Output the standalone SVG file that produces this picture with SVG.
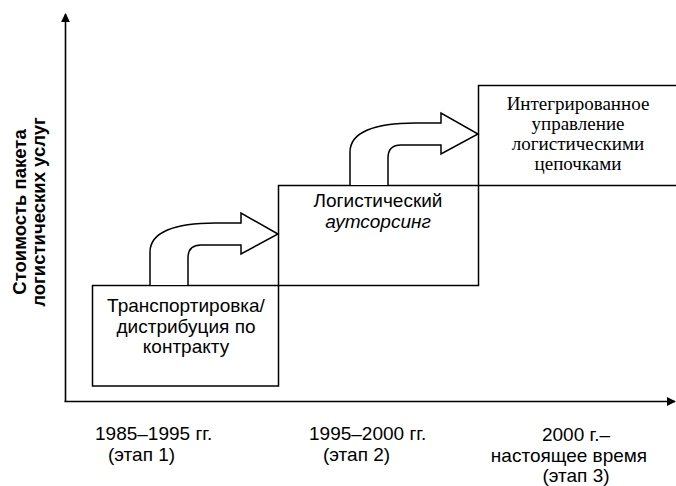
<svg xmlns="http://www.w3.org/2000/svg" xmlns:xlink="http://www.w3.org/1999/xlink" width="676" height="486" viewBox="0 0 676 486">
  <style>
    .box { fill: #ffffff; stroke: #000000; stroke-width: 1.5; }
    .edge { fill: none; stroke: #000000; stroke-width: 1.5; }
    .axis { fill: none; stroke: #000000; stroke-width: 1.6; }
    .flow { fill: #ffffff; stroke: #000000; stroke-width: 1.5; stroke-linejoin: miter; }
    .sans { font-family: "Liberation Sans", Arial, sans-serif; font-size: 19px; fill: #000000; }
    .serif { font-family: "Liberation Serif", "Times New Roman", serif; font-size: 19px; fill: #000000; }
    .ylabel { font-family: "Liberation Sans", Arial, sans-serif; font-size: 18.5px; font-weight: bold; fill: #000000; }
  </style>
  <defs>
    <marker id="axisHead" viewBox="0 0 10 10" refX="9" refY="5" markerWidth="9" markerHeight="9" markerUnits="userSpaceOnUse" orient="auto">
      <path d="M0,0 L10,5 L0,10 Z" fill="#000000"/>
    </marker>
    <!-- curved block arrow stepping up to the next level -->
    <path id="stepArrow" class="flow" d="M150,285 L150,252 C150,232 175,223 215,223 L241,223 L241,213 L278,234 L241,254 L241,245 L201,245 C193,245 188,249 188,258 L188,285"/>
  </defs>

  <!-- axes -->
  <g id="axes">
    <path class="axis" d="M65.5,402 L65.5,14" marker-end="url(#axisHead)"/>
    <path class="axis" d="M64.5,401.5 L675,401.5" marker-end="url(#axisHead)"/>
    <text class="ylabel" text-anchor="middle" transform="translate(26,212) rotate(-90)">Стоимость пакета</text>
    <text class="ylabel" text-anchor="middle" transform="translate(45,212) rotate(-90)">логистических услуг</text>
  </g>

  <!-- stage 1 -->
  <g id="stage1">
    <rect class="box" x="92.5" y="285.5" width="186" height="100.5"/>
    <text class="sans" text-anchor="middle" x="186" y="312">Транспортировка/</text>
    <text class="sans" text-anchor="middle" x="186" y="333">дистрибуция по</text>
    <text class="sans" text-anchor="middle" x="186" y="353">контракту</text>
  </g>

  <!-- stage 2 -->
  <g id="stage2">
    <rect class="box" x="278.5" y="185.5" width="200" height="100"/>
    <text class="sans" text-anchor="middle" x="378" y="207">Логистический</text>
    <text class="sans" text-anchor="middle" x="378" y="228" font-style="italic">аутсорсинг</text>
  </g>

  <!-- stage 3 (runs off the right edge) -->
  <g id="stage3">
    <path class="box" d="M680,85.5 L478.5,85.5 L478.5,185.5 L680,185.5"/>
    <text class="serif" text-anchor="middle" x="578" y="110">Интегрированное</text>
    <text class="serif" text-anchor="middle" x="578" y="130">управление</text>
    <text class="serif" text-anchor="middle" x="578" y="150">логистическими</text>
    <text class="serif" text-anchor="middle" x="578" y="170">цепочками</text>
  </g>

  <!-- transitions between stages -->
  <g id="connectors">
    <use xlink:href="#stepArrow"/>
    <use xlink:href="#stepArrow" transform="translate(200,-100)"/>
  </g>

  <!-- period labels -->
  <g id="period1">
    <text class="sans" x="95" y="440">1985–1995 гг.</text>
    <text class="sans" x="108" y="461">(этап 1)</text>
  </g>
  <g id="period2">
    <text class="sans" x="309" y="440">1995–2000 гг.</text>
    <text class="sans" x="323" y="461">(этап 2)</text>
  </g>
  <g id="period3">
    <text class="sans" text-anchor="middle" x="576" y="441">2000 г.–</text>
    <text class="sans" text-anchor="middle" x="569" y="462">настоящее время</text>
    <text class="sans" text-anchor="middle" x="576" y="482">(этап 3)</text>
  </g>
</svg>
